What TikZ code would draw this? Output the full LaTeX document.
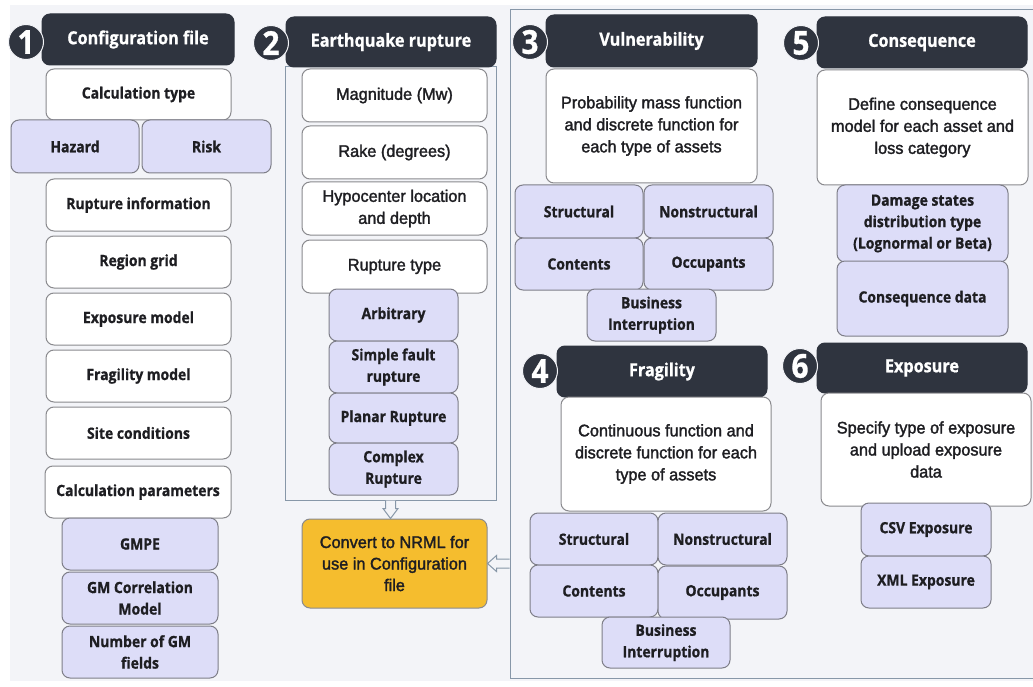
\documentclass[tikz,border=0pt]{standalone}
\usepackage{fontspec}
\setmainfont{Liberation Sans}
\newfontfamily\hdfont[FakeStretch=0.9,FakeBold=0.9]{Open Sans}
\newfontfamily\bodyfont[FakeStretch=0.97,FakeBold=1.8]{Liberation Sans}
\usetikzlibrary{calc}

\definecolor{bgc}{HTML}{F3F4F8}
\definecolor{dark}{HTML}{2F343F}
\definecolor{lav}{HTML}{DDDDF8}
\definecolor{lline}{HTML}{7E7E88}
\definecolor{wline}{HTML}{8A8A8E}
\definecolor{frm}{HTML}{8797A8}
\definecolor{gold}{HTML}{F5BD2E}
\definecolor{txt}{HTML}{1E1E22}

\tikzset{
  base/.style={rounded corners=8pt, line width=1pt, align=center, inner sep=2pt, text=txt},
  wbox/.style={base, draw=wline, fill=white, font=\bodyfont\fontsize{16.8}{22}\selectfont},
  wboxb/.style={base, draw=wline, fill=white, font=\hdfont\bfseries\fontsize{15.5}{21}\selectfont},
  lbox/.style={base, draw=lline, fill=lav, font=\hdfont\bfseries\fontsize{15.5}{21.5}\selectfont},
  tbox/.style={base, draw=dark, fill=dark, text=white, font=\hdfont\bfseries\fontsize{18}{20}\selectfont},
  ybox/.style={base, draw=wline, fill=gold, font=\bodyfont\fontsize{16.8}{21.5}\selectfont},
  frame/.style={draw=frm, line width=1pt, inner sep=0pt},
  badge/.style={circle, fill=dark, draw=bgc, line width=1pt, text=white, inner sep=0pt,
    minimum size=35pt, font=\hdfont\bfseries\fontsize{33}{33}\selectfont},
  barrow/.style={draw=frm, fill=bgc, line width=1pt, line join=miter}
}

% box from its corners: name, style, x1, y1, x2, y2, text
\newcommand\bx[7]{\node[#2, minimum width={#5pt-#3pt}, minimum height={#6pt-#4pt}]
  (#1) at ({(#3+#5)/2},{(#4+#6)/2}) {#7};}

\begin{document}
\begin{tikzpicture}[x=1pt, y=-1pt]
\useasboundingbox (0,0) rectangle (1033,687);
\fill[bgc] (10,5) rectangle (1033,681);

% ---------- 1: configuration file ----------
\bx{cfg}{tbox}{42}{14}{234}{65}{Configuration file}
\node[badge] (n1) at (26,42) {1};
\bx{calc}{wboxb}{46}{69}{231}{120}{Calculation type}
\bx{haz}{lbox}{11}{120}{139}{173}{Hazard}
\bx{risk}{lbox}{142}{120}{271}{173}{Risk}
\bx{rupinfo}{wboxb}{46}{179}{231}{231}{Rupture information}
\bx{grid}{wboxb}{46}{236}{231}{288}{Region grid}
\bx{expm}{wboxb}{46}{293}{231}{345}{Exposure model}
\bx{fragm}{wboxb}{46}{350}{231}{402}{Fragility model}
\bx{site}{wboxb}{46}{407}{231}{459}{Site conditions}
\bx{cpar}{wboxb}{45}{466}{231}{518}{Calculation parameters}
\bx{gmpe}{lbox}{62}{518}{218}{570}{GMPE}
\bx{gmc}{lbox}{62}{572}{218}{624}{GM Correlation\\Model}
\bx{ngm}{lbox}{62}{626}{218}{678}{Number of GM\\fields}

% ---------- 2: earthquake rupture ----------
\bx{rupframe}{frame}{285}{67}{496}{500}{}
\bx{eqr}{tbox}{286}{17}{496}{67}{Earthquake rupture}
\node[badge] (n2) at (271,43) {2};
\bx{mag}{wbox}{302}{69}{487}{122}{Magnitude (Mw)}
\bx{rake}{wbox}{302}{126}{487}{179}{Rake (degrees)}
\bx{hypo}{wbox}{302}{182}{487}{235}{Hypocenter location\\and depth}
\bx{rtype}{wbox}{302}{240}{487}{293}{Rupture type}
\bx{arb}{lbox}{329}{289}{458}{341}{Arbitrary}
\bx{sfr}{lbox}{329}{341}{458}{393}{Simple fault\\rupture}
\bx{pla}{lbox}{329}{393}{458}{443}{Planar Rupture}
\bx{cpx}{lbox}{329}{443}{458}{495}{Complex\\Rupture}
\bx{nrml}{ybox}{302}{519}{487}{608}{Convert to NRML for\\use in Configuration\\file}

% ---------- panel holding 3 to 6 ----------
\bx{panel}{frame}{510}{10}{1050}{678}{}

% ---------- 3: vulnerability ----------
\bx{vul}{tbox}{546}{15}{757}{67}{Vulnerability}
\node[badge] (n3) at (530,42) {3};
\bx{vdesc}{wbox}{546}{69}{757}{183}{Probability mass function\\and discrete function for\\each type of assets}
\bx{vs}{lbox}{515}{185}{643}{238}{Structural}
\bx{vn}{lbox}{644}{185}{773}{238}{Nonstructural}
\bx{vc}{lbox}{515}{238}{643}{290}{Contents}
\bx{vo}{lbox}{644}{238}{773}{290}{Occupants}
\bx{vb}{lbox}{587}{289}{716}{341}{Business\\Interruption}

% ---------- 4: fragility ----------
\bx{fra}{tbox}{557}{346}{767}{397}{Fragility}
\node[badge] (n4) at (540,371) {4};
\bx{fdesc}{wbox}{561}{397}{771}{511}{Continuous function and\\discrete function for each\\type of assets}
\bx{fs}{lbox}{530}{513}{658}{565}{Structural}
\bx{fn}{lbox}{658}{513}{787}{565}{Nonstructural}
\bx{fc}{lbox}{530}{565}{658}{617}{Contents}
\bx{fo}{lbox}{658}{566}{787}{619}{Occupants}
\bx{fb}{lbox}{602}{617}{730}{668}{Business\\Interruption}

% ---------- 5: consequence ----------
\bx{con}{tbox}{817}{17}{1027}{68}{Consequence}
\node[badge] (n5) at (801,43) {5};
\bx{cdesc}{wbox}{817}{70}{1028}{185}{Define consequence\\model for each asset and\\loss category}
\bx{dmg}{lbox}{837}{185}{1008}{262}{Damage states\\distribution type\\(Lognormal or Beta)}
\bx{cdat}{lbox}{837}{261}{1008}{336}{Consequence data}

% ---------- 6: exposure ----------
\bx{expo}{tbox}{817}{343}{1027}{393}{Exposure}
\node[badge] (n6) at (800,366) {6};
\bx{edesc}{wbox}{821}{393}{1031}{506}{Specify type of exposure\\and upload exposure\\data}
\bx{csv}{lbox}{861}{503}{991}{556}{CSV Exposure}
\bx{xml}{lbox}{861}{556}{991}{608}{XML Exposure}

% ---------- hollow block arrows into the NRML box ----------
\coordinate (da1) at (rupframe.south);
\coordinate (da2) at (rupframe.south |- nrml.north);
\draw[barrow] ($(da1)+(-5,0)$) -- ($(da1)+(-5,8)$) -- ($(da1)+(-7.5,8)$) -- (da2)
  -- ($(da1)+(7.5,8)$) -- ($(da1)+(5,8)$) -- ($(da1)+(5,0)$);

\coordinate (la1) at (panel.west |- nrml.east);
\coordinate (la2) at (nrml.east);
\draw[barrow] ($(la1)+(0,-4.5)$) -- ($(la1)+(-13,-4.5)$) -- ($(la1)+(-13,-8)$) -- (la2)
  -- ($(la1)+(-13,8)$) -- ($(la1)+(-13,4.5)$) -- ($(la1)+(0,4.5)$);
\end{tikzpicture}
\end{document}
